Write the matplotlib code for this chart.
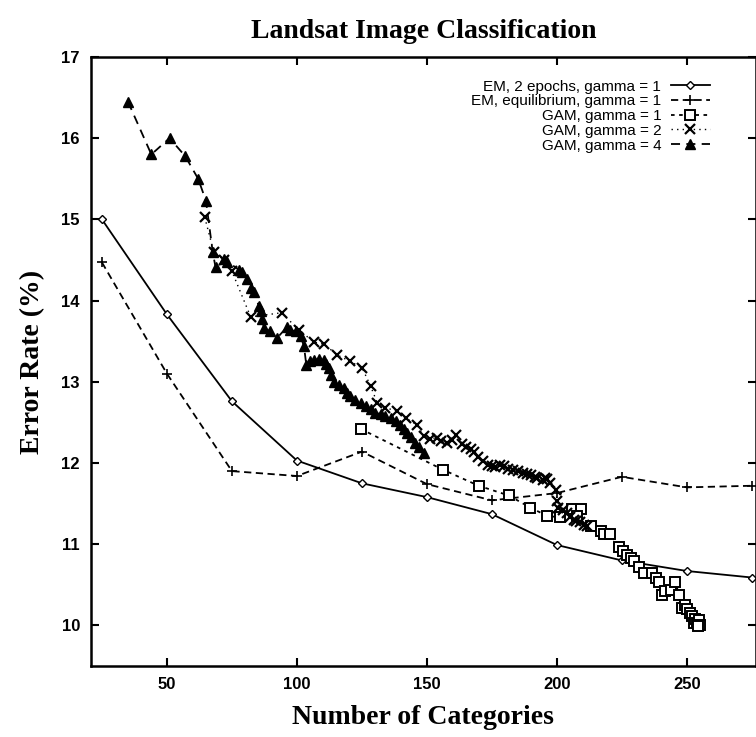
import matplotlib
matplotlib.use("Agg")
import matplotlib.pyplot as plt

# EM, 2 epochs, gamma = 1
em2_x = [25, 50, 75, 100, 125, 150, 175, 200, 225, 250, 275]
em2_y = [15.0, 13.83, 12.76, 12.03, 11.75, 11.58, 11.37, 10.99, 10.80, 10.67, 10.59]

# EM, equilibrium, gamma = 1
emeq_x = [25, 50, 75, 100, 125, 150, 175, 200, 225, 250, 275]
emeq_y = [14.47, 13.1, 11.9, 11.84, 12.14, 11.74, 11.54, 11.63, 11.83, 11.70, 11.72]

# GAM, gamma = 1
gam1_x = [124.5, 156, 169.9, 181.5, 189.8, 196.2, 201.1, 205.9, 209.1, 207.8, 213, 216.8,
          218, 220.6, 223.8, 225.5, 227, 228.5, 229.6, 231.5, 233.4, 236.6, 238, 239.2, 240.5,
          241.5, 243.7, 245.6, 246.9, 248.2, 249.2, 250.1, 251, 252, 252.6, 253.3, 254, 254.6,
          255, 254.2]
gam1_y = [12.42, 11.92, 11.72, 11.60, 11.45, 11.35, 11.33, 11.43, 11.43, 11.35, 11.23, 11.16,
          11.12, 11.13, 10.96, 10.92, 10.87, 10.83, 10.79, 10.72, 10.65, 10.65, 10.58, 10.53,
          10.38, 10.43, 10.44, 10.53, 10.38, 10.22, 10.25, 10.20, 10.15, 10.12, 10.03, 10.08,
          10.03, 10.07, 10.0, 9.99]

# GAM, gamma = 2
gam2_x = [64.5, 68, 72, 75, 82.2, 94.1, 100.7, 106.5, 110.6, 115.5, 120.6, 125.1, 128.3,
          130.9, 134, 138.6, 142, 146.2, 148.8, 151, 153.9, 155.5, 157.8, 159.5, 161, 163.5,
          165, 166.8, 168, 169.5, 171.5, 173.3, 175, 176, 178, 179.5, 181, 183, 185, 187, 188.5,
          190, 191.5, 192.5, 194.5, 195.5, 196.3, 197.5, 199.5, 200.1, 200.6, 202.5, 203.9,
          205, 206.4, 207.5, 209, 210.5, 211.6]
gam2_y = [15.03, 14.6, 14.5, 14.36, 13.80, 13.85, 13.64, 13.49, 13.46, 13.33, 13.25, 13.17,
          12.95, 12.74, 12.68, 12.64, 12.55, 12.47, 12.33, 12.30, 12.31, 12.27, 12.25, 12.28,
          12.35, 12.24, 12.20, 12.17, 12.13, 12.08, 12.02, 11.98, 11.96, 11.95, 11.97, 11.96,
          11.93, 11.92, 11.90, 11.88, 11.86, 11.85, 11.83, 11.82, 11.79, 11.81, 11.80, 11.75,
          11.67, 11.53, 11.45, 11.42, 11.39, 11.34, 11.30, 11.29, 11.27, 11.24, 11.22]

# GAM, gamma = 4
gam4_x = [35, 44, 51, 57, 62, 65, 67.6, 68.7, 71.9, 73.2, 77.7, 79, 80.9, 82.2, 83.4, 85.4,
          86, 86.7, 87.3, 89.8, 92.4, 96.3, 97.5, 99.5, 101.4, 102.7, 103.6, 105, 106.5, 108.5,
          110.3, 111.3, 112.3, 113.2, 114.2, 116, 118, 119.3, 120.6, 122.5, 124.5, 126.5, 128.3,
          130.2, 132.2, 134, 136, 138, 139.8, 141, 142.4, 144, 145.5, 147, 148.8]
gam4_y = [16.45, 15.8, 16.0, 15.78, 15.5, 15.23, 14.6, 14.41, 14.51, 14.48, 14.38, 14.35,
          14.27, 14.15, 14.11, 13.93, 13.87, 13.77, 13.66, 13.62, 13.54, 13.68, 13.64, 13.62,
          13.56, 13.44, 13.21, 13.25, 13.27, 13.28, 13.27, 13.22, 13.17, 13.08, 13.0, 12.96,
          12.92, 12.86, 12.82, 12.78, 12.74, 12.70, 12.66, 12.62, 12.6, 12.58, 12.56, 12.52,
          12.47, 12.42, 12.37, 12.32, 12.25, 12.2, 12.12]

serif = "Liberation Serif"
sans = "Liberation Sans"

fig = plt.figure(figsize=(7.56, 7.37), dpi=100)
ax = fig.add_axes([0.1204, 0.0963, 0.879, 0.8264])

ax.plot(em2_x, em2_y, color="black", lw=1.3, marker="D", ms=4.5, mfc="white", mec="black",
        mew=1.0, label="EM, 2 epochs, gamma = 1")
ax.plot(emeq_x, emeq_y, color="black", lw=1.3, ls=(0, (4, 2.5)), marker="+", ms=7, mew=1.2,
        label="EM, equilibrium, gamma = 1")
ax.plot(gam1_x, gam1_y, color="black", lw=1.3, ls=(0, (2, 2.5)), marker="s", ms=7, mfc="white",
        mec="black", mew=1.4, label="GAM, gamma = 1")
ax.plot(gam2_x, gam2_y, color="black", lw=1.0, ls=(0, (1, 3)), marker="x", ms=7, mew=1.6,
        label="GAM, gamma = 2")
ax.plot(gam4_x, gam4_y, color="black", lw=1.3, ls=(0, (5, 3.5)), marker="^", ms=7,
        mfc="black", mec="black", label="GAM, gamma = 4")

ax.set_xlim(20.8, 276.4)
ax.set_ylim(9.5, 17)
ax.set_xticks([50, 100, 150, 200, 250])
ax.set_yticks([10, 11, 12, 13, 14, 15, 16, 17])
ax.tick_params(direction="in", length=6, width=1.5, top=True, right=True, pad=8)
for lab in ax.get_xticklabels() + ax.get_yticklabels():
    lab.set_fontfamily(sans)
    lab.set_fontweight("bold")
    lab.set_fontsize(12)
for s in ax.spines.values():
    s.set_linewidth(1.8)

ax.set_title("Landsat Image Classification", fontfamily=serif, fontweight="bold",
             fontsize=20, pad=14)
ax.set_xlabel("Number of Categories", fontfamily=serif, fontweight="bold", fontsize=20,
              labelpad=9)
ax.set_ylabel("Error Rate (%)", fontfamily=serif, fontweight="bold", fontsize=20,
              labelpad=12)

ax.legend(loc="upper right", bbox_to_anchor=(0.941, 0.973), frameon=False, markerfirst=False,
          prop={"family": sans, "size": 11}, handlelength=2.6, labelspacing=0.05,
          handletextpad=0.6, borderaxespad=0)

fig.savefig("out.png", dpi=100)
